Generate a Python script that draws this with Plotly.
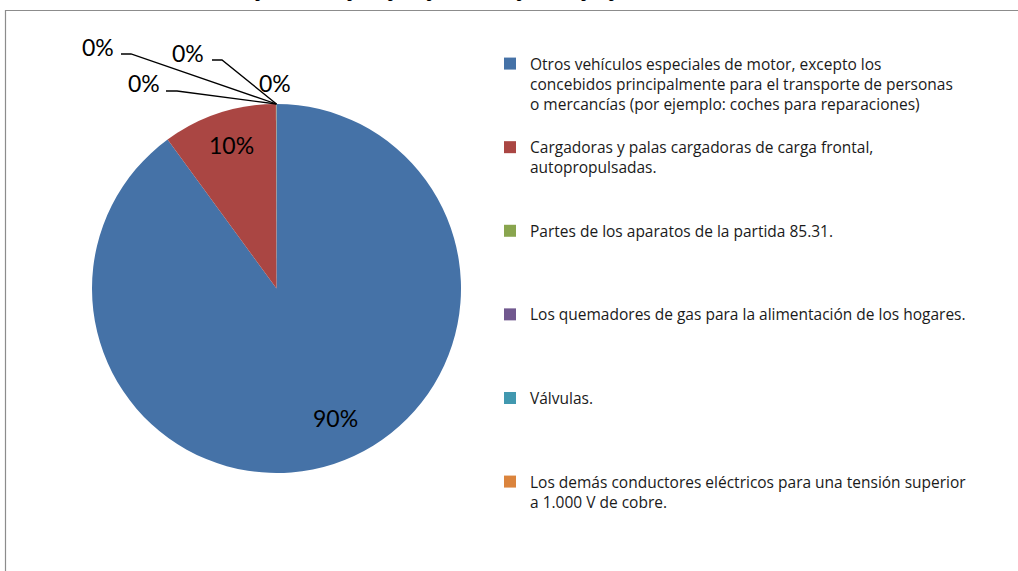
import plotly.graph_objects as go

W, H = 1018, 571

# ---------------- data ----------------
categories = [
    "Otros vehículos especiales de motor, excepto los<br>concebidos principalmente para el transporte de personas<br>o mercancías (por ejemplo: coches para reparaciones)",
    "Cargadoras y palas cargadoras de carga frontal,<br>autopropulsadas.",
    "Partes de los aparatos de la partida 85.31.",
    "Los quemadores de gas para la alimentación de los hogares.",
    "Válvulas.",
    "Los demás conductores eléctricos para una tensión superior<br>a 1.000 V de cobre.",
]
values = [89.95, 10.0, 0.02, 0.01, 0.01, 0.01]
colors = ["#4572A7", "#AA4643", "#89A54E", "#71588F", "#4198AF", "#DB843D"]
title_text = "Participación de los principales productos importados por partida"

# --------------- helpers ---------------
def fx(px):
    return px / W

def fy(py):
    return 1 - py / H

# pad legend entries so every entry occupies the same height
LINES = 4
legend_names = []
for c in categories:
    n = c.count("<br>") + 1
    legend_names.append(c + "<br>\u00a0" * (LINES - n))

total = sum(values)
pct = [round(v / total * 100) for v in values]

# pie geometry (pixels)
CX, CY, R = 276.5, 288.5, 184.5
dom_x = [fx(CX - R), fx(CX + R)]
dom_y = [fy(CY + R), fy(CY - R)]

fig = go.Figure(
    go.Pie(
        labels=legend_names,
        values=values,
        sort=False,
        direction="clockwise",
        rotation=0,
        marker=dict(colors=colors, line=dict(width=0)),
        textinfo="none",
        domain=dict(x=dom_x, y=dom_y),
        hoverinfo="label+percent",
    )
)

# apex of the pie (12 o'clock) for the leader lines of the zero labels
apex_x = (dom_x[0] + dom_x[1]) / 2
apex_y = dom_y[1]

# data-label placement (pixel centres), one per slice, plus leader-line starts
label_pos = [(335, 418), (231, 145), (98, 47), (188, 53), (144, 83), (275, 83)]
line_start = [None, None, (121, 131, 54), (212, 222, 60), (166, 177, 91), None]

annotations = []
shapes = []
for i, p in enumerate(pct):
    lx, ly = label_pos[i]
    annotations.append(dict(
        x=fx(lx), y=fy(ly), xref="paper", yref="paper",
        text=f"{p}%", showarrow=False,
        font=dict(family="Lato", size=23, color="#000000"),
        xanchor="center", yanchor="middle",
    ))
    ls = line_start[i]
    if ls is not None:
        x0, x1, yy = ls
        shapes.append(dict(
            type="path", xref="paper", yref="paper",
            path=f"M {fx(x0)},{fy(yy)} L {fx(x1)},{fy(yy)} L {apex_x},{apex_y}",
            line=dict(color="#000000", width=1.3),
        ))

# chart area border (extends beyond the visible page)
shapes.append(dict(
    type="rect", xref="paper", yref="paper",
    x0=fx(5.5), y0=fy(10.5), x1=1.05, y1=-0.05,
    line=dict(color="#8c8c8c", width=1.2), fillcolor="rgba(0,0,0,0)", layer="below",
))

# cut-off title at top
annotations.append(dict(
    x=fx(434), y=fy(-7.5), xref="paper", yref="paper",
    text="<b>" + title_text + "</b>", showarrow=False,
    font=dict(family="Liberation Serif", size=16, color="#000000"),
    xanchor="center", yanchor="middle",
))

fig.update_layout(
    width=W, height=H,
    margin=dict(l=0, r=0, t=0, b=0),
    paper_bgcolor="#ffffff",
    plot_bgcolor="#ffffff",
    showlegend=True,
    legend=dict(
        x=fx(490), y=fy(47), xanchor="left", yanchor="top",
        font=dict(family="Open Sans", size=15.5, color="#1a1a1a"),
        valign="top", bgcolor="rgba(0,0,0,0)", borderwidth=0,
        traceorder="normal",
    ),
    annotations=annotations,
    shapes=shapes,
)

fig.write_html("out.html")
